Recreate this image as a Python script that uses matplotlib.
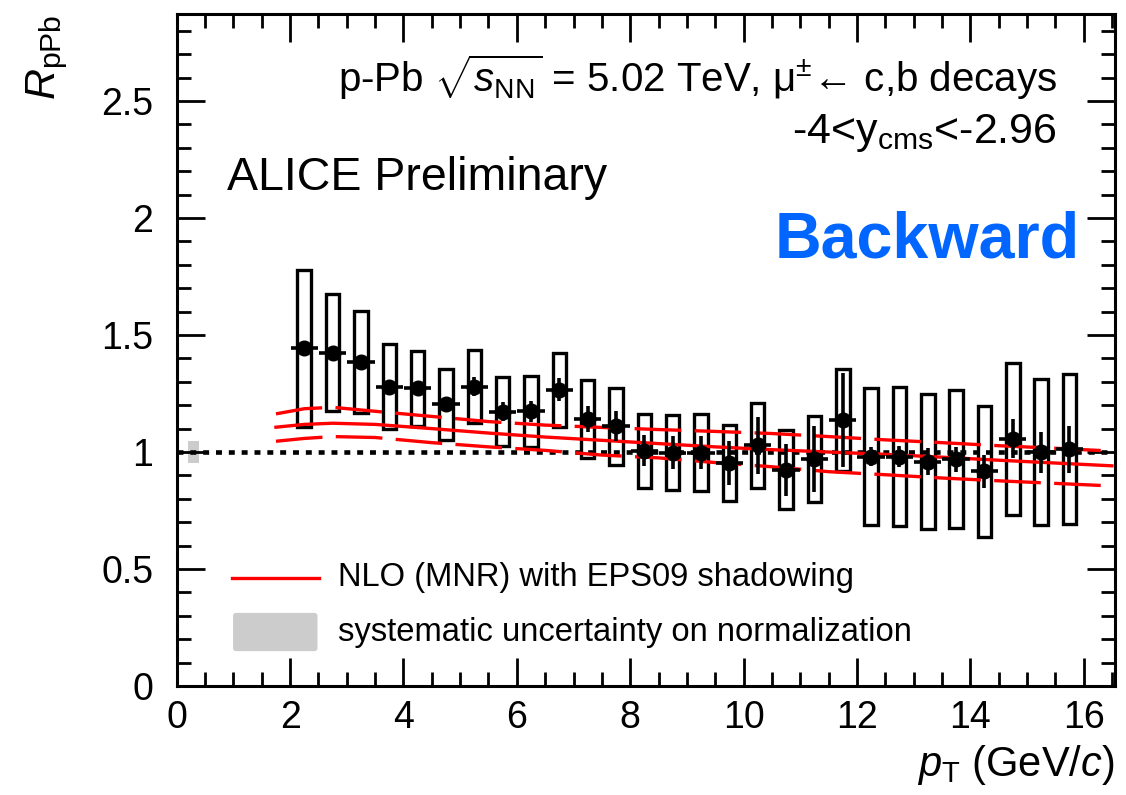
import numpy as np
import matplotlib
matplotlib.use('Agg')
import matplotlib.pyplot as plt
from matplotlib.patches import Rectangle, FancyBboxPatch
from matplotlib.ticker import MultipleLocator

plt.rcParams['font.family'] = ['Liberation Sans', 'DejaVu Sans']
plt.rcParams['mathtext.fontset'] = 'custom'
plt.rcParams['mathtext.rm'] = 'Liberation Sans'
plt.rcParams['mathtext.it'] = 'Liberation Sans:italic'
plt.rcParams['mathtext.bf'] = 'Liberation Sans:bold'

# muon pT bins (centres) and R_pPb
pt = [2.25, 2.75, 3.25, 3.75, 4.25, 4.75, 5.25, 5.75, 6.25, 6.75, 7.25, 7.75,
      8.25, 8.75, 9.25, 9.75, 10.25, 10.75, 11.25, 11.75, 12.25, 12.75, 13.25,
      13.75, 14.25, 14.75, 15.25, 15.75]
rppb = [1.443, 1.425, 1.386, 1.279, 1.272, 1.204, 1.279, 1.172, 1.174, 1.266,
        1.141, 1.110, 1.006, 0.997, 0.997, 0.952, 1.028, 0.924, 0.971, 1.137,
        0.980, 0.980, 0.959, 0.969, 0.917, 1.056, 0.999, 1.012]
stat = [0.02, 0.02, 0.02, 0.02, 0.02, 0.02, 0.04, 0.04, 0.045, 0.05, 0.057,
        0.064, 0.066, 0.07, 0.07, 0.095, 0.12, 0.11, 0.14, 0.2, 0.04, 0.045,
        0.057, 0.053, 0.07, 0.083, 0.087, 0.1]
syst = [0.336, 0.25, 0.218, 0.182, 0.16, 0.151, 0.155, 0.147, 0.152, 0.158,
        0.166, 0.165, 0.158, 0.16, 0.165, 0.163, 0.182, 0.169, 0.184, 0.217,
        0.293, 0.296, 0.289, 0.294, 0.28, 0.325, 0.312, 0.321]

# NLO (MNR) + EPS09 band
nlo_pt = [1.75, 2.25, 2.75, 3.5, 4.5, 5.5, 6.5, 7.5, 8.5, 9.5, 10.5, 11.5,
          12.5, 13.5, 14.5, 15.5, 16.5]
nlo_mid = [1.106, 1.118, 1.123, 1.118, 1.100, 1.081, 1.064, 1.050, 1.036,
           1.022, 1.010, 1.000, 0.990, 0.978, 0.965, 0.953, 0.941]
nlo_up = [1.163, 1.185, 1.191, 1.174, 1.152, 1.130, 1.115, 1.105, 1.096,
          1.088, 1.079, 1.066, 1.052, 1.040, 1.027, 1.016, 1.004]
nlo_lo = [1.046, 1.058, 1.066, 1.062, 1.040, 1.022, 1.007, 0.987, 0.975,
          0.955, 0.937, 0.916, 0.903, 0.889, 0.877, 0.866, 0.855]

norm_unc = 0.048

fig = plt.figure(figsize=(11.26, 7.95), dpi=100)
ax = fig.add_axes([0.157, 0.137, 0.833, 0.845])
ax.set_xlim(0, 16.55)
ax.set_ylim(0, 2.87)

# systematic boxes
bw = 0.24
for x, y, s in zip(pt, rppb, syst):
    ax.add_patch(Rectangle((x - bw / 2, y - s), bw, 2 * s, fill=False,
                           edgecolor='black', linewidth=2.4, zorder=2))

# normalisation uncertainty
ax.add_patch(Rectangle((0.19, 1 - norm_unc), 0.2, 2 * norm_unc,
                       facecolor='#cccccc', edgecolor='none', zorder=1))

ax.axhline(1.0, color='black', linewidth=3.3, dashes=(1.3, 1.5), zorder=3)

# model curves
ax.plot(nlo_pt, nlo_mid, color='#ff0000', linewidth=2.4, zorder=4)
ax.plot(nlo_pt, nlo_up, color='#ff0000', linewidth=2.4, dashes=(14, 4), zorder=4)
ax.plot(nlo_pt, nlo_lo, color='#ff0000', linewidth=2.4, dashes=(14, 4), zorder=4)

ax.errorbar(pt, rppb, yerr=stat, xerr=0.24, fmt='o', color='black',
            markersize=10.5, elinewidth=2.6, capsize=0, zorder=5)

# axes style
for sp in ax.spines.values():
    sp.set_linewidth(2.2)
ax.xaxis.set_major_locator(MultipleLocator(2))
ax.xaxis.set_minor_locator(MultipleLocator(0.5))
ax.yaxis.set_major_locator(MultipleLocator(0.5))
ax.yaxis.set_minor_locator(MultipleLocator(0.1))
ax.tick_params(which='both', direction='in', top=True, right=True, width=2)
ax.tick_params(which='major', length=20, labelsize=27)
ax.tick_params(which='minor', length=10)
ax.tick_params(axis='x', pad=10)
ax.tick_params(axis='y', pad=17)
ax.set_yticks([0, 0.5, 1, 1.5, 2, 2.5])
ax.set_yticklabels(['0', '0.5', '1', '1.5', '2', '2.5'])

ax.text(-0.138, 1.0, r'$R_{\rm pPb}$', transform=ax.transAxes, rotation=90,
        ha='center', va='top', fontsize=31)
ax.text(1.0, -0.118, r'$p_{\rm T}$ (GeV/$c$)', transform=ax.transAxes,
        ha='right', va='center', fontsize=30)

ax.text(0.938, 0.906, r'p-Pb $\sqrt{s_{\rm NN}}$ = 5.02 TeV, $\mathrm{\mu}^{\pm}$← c,b decays',
        transform=ax.transAxes, ha='right', va='center', fontsize=29)
ax.text(0.938, 0.823, r'-4<y$_{\rm cms}$<-2.96', transform=ax.transAxes,
        ha='right', va='center', fontsize=31)
ax.text(0.054, 0.756, 'ALICE Preliminary', transform=ax.transAxes,
        ha='left', va='center', fontsize=33.5)
ax.text(0.963, 0.664, 'Backward', transform=ax.transAxes, ha='right',
        va='center', fontsize=46.5, fontweight='bold', color='#0066ff')

# legend
ax.plot([0.059, 0.152], [0.161, 0.161], transform=ax.transAxes,
        color='#ff0000', linewidth=2.4)
ax.add_patch(FancyBboxPatch((0.06, 0.052), 0.09, 0.057,
                            boxstyle='round,pad=0,rounding_size=0.004',
                            transform=ax.transAxes, facecolor='#cccccc',
                            edgecolor='none'))
ax.text(0.172, 0.162, 'NLO (MNR) with EPS09 shadowing', transform=ax.transAxes,
        ha='left', va='center', fontsize=23.6)
ax.text(0.172, 0.080, 'systematic uncertainty on normalization',
        transform=ax.transAxes, ha='left', va='center', fontsize=23.6)

fig.savefig('out.png', dpi=100)
